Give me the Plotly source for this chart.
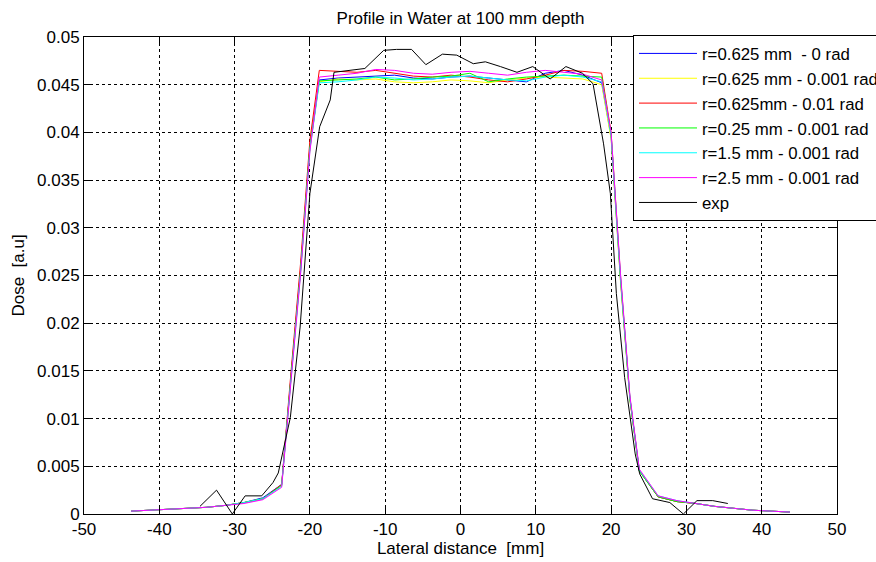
import plotly.graph_objects as go

# ---- data ----
x_sim = [-43.75, -41.25, -38.75, -36.25, -33.75, -31.25, -28.75, -26.25, -23.75, -22.5, -21.25, -20, -18.75,
         -16.25, -13.75, -11.25, -8.75, -6.25, -3.75, -1.25, 1.25, 3.75, 6.25, 8.75, 11.25, 13.75, 16.25,
         18.75, 20, 21.25, 22.5, 23.75, 26.25, 28.75, 31.25, 33.75, 36.25, 38.75, 41.25, 43.75]

dose_r0625_0 = [0.0003, 0.0004, 0.0005, 0.0006, 0.0007, 0.0009, 0.0012, 0.0017, 0.0031, 0.0145, 0.0255, 0.0385, 0.0455,
                0.0457, 0.0458, 0.0459, 0.0460, 0.0457, 0.0456, 0.0458, 0.0459, 0.0457, 0.0455, 0.0453, 0.0462, 0.0465, 0.0460,
                0.0452, 0.0395, 0.0245, 0.0120, 0.0045, 0.0018, 0.0013, 0.0011, 0.0008, 0.0006, 0.0004, 0.0003, 0.0002]
dose_r0625_0001 = [0.0003, 0.0004, 0.0005, 0.0006, 0.0007, 0.0009, 0.0012, 0.0016, 0.0030, 0.0143, 0.0253, 0.0383, 0.0453,
                   0.0456, 0.0455, 0.0456, 0.0453, 0.0452, 0.0453, 0.0455, 0.0454, 0.0452, 0.0455, 0.0457, 0.0458, 0.0457, 0.0456,
                   0.0450, 0.0393, 0.0243, 0.0119, 0.0045, 0.0018, 0.0013, 0.0011, 0.0008, 0.0006, 0.0004, 0.0003, 0.0002]
dose_r0625_001 = [0.0003, 0.0004, 0.0005, 0.0006, 0.0007, 0.0009, 0.0012, 0.0016, 0.0031, 0.0150, 0.0262, 0.0392, 0.0465,
                  0.0464, 0.0463, 0.0465, 0.0462, 0.0459, 0.0458, 0.0460, 0.0458, 0.0455, 0.0453, 0.0456, 0.0460, 0.0465, 0.0464,
                  0.0462, 0.0400, 0.0250, 0.0122, 0.0046, 0.0018, 0.0013, 0.0011, 0.0008, 0.0006, 0.0004, 0.0003, 0.0002]
dose_r025_0001 = [0.0003, 0.0004, 0.0005, 0.0006, 0.0007, 0.0009, 0.0012, 0.0016, 0.0030, 0.0144, 0.0254, 0.0384, 0.0454,
                  0.0455, 0.0456, 0.0458, 0.0455, 0.0456, 0.0458, 0.0459, 0.0462, 0.0453, 0.0456, 0.0458, 0.0459, 0.0460, 0.0459,
                  0.0458, 0.0398, 0.0247, 0.0121, 0.0045, 0.0018, 0.0013, 0.0011, 0.0008, 0.0006, 0.0004, 0.0003, 0.0002]
dose_r15_0001 = [0.0003, 0.0004, 0.0005, 0.0006, 0.0007, 0.0009, 0.0012, 0.0016, 0.0029, 0.0142, 0.0252, 0.0382, 0.0452,
                 0.0453, 0.0455, 0.0458, 0.0457, 0.0455, 0.0456, 0.0458, 0.0459, 0.0457, 0.0455, 0.0454, 0.0458, 0.0460, 0.0458,
                 0.0453, 0.0397, 0.0248, 0.0122, 0.0046, 0.0019, 0.0014, 0.0011, 0.0008, 0.0006, 0.0004, 0.0003, 0.0002]
dose_r25_0001 = [0.0003, 0.0004, 0.0005, 0.0006, 0.0007, 0.0009, 0.0011, 0.0015, 0.0028, 0.0140, 0.0250, 0.0380, 0.0458,
                 0.0460, 0.0462, 0.0466, 0.0465, 0.0462, 0.0461, 0.0463, 0.0464, 0.0462, 0.0460, 0.0463, 0.0465, 0.0463, 0.0461,
                 0.0455, 0.0400, 0.0252, 0.0124, 0.0047, 0.0019, 0.0014, 0.0011, 0.0008, 0.0006, 0.0004, 0.0003, 0.0002]

x_exp = [-34.6, -32.4, -30.3, -28.6, -26.4, -24.9, -24.2, -22.6, -21.3, -20.0, -18.7, -17.3, -16.8, -12.7, -10.2,
         -8.5, -6.5, -4.6, -2.4, -0.5, 1.7, 3.3, 5.3, 7.5, 9.6, 11.9, 14.0, 16.2, 17.6, 19.0, 19.9, 20.7, 21.8,
         23.2, 23.8, 25.5, 27.8, 29.6, 31.4, 33.5, 35.5]
dose_exp = [0.0008, 0.0025, 0.0000, 0.0019, 0.0019, 0.0033, 0.0043, 0.0101, 0.0196, 0.0336, 0.0406, 0.0434, 0.0463,
            0.0467, 0.0486, 0.0487, 0.0487, 0.0471, 0.0482, 0.0481, 0.0472, 0.0474, 0.0469, 0.0463, 0.0469, 0.0456,
            0.0469, 0.0462, 0.0451, 0.0388, 0.0336, 0.0231, 0.0143, 0.0063, 0.0042, 0.0016, 0.0012, 0.0000, 0.0014,
            0.0014, 0.0011]

x_ticks = [-50, -40, -30, -20, -10, 0, 10, 20, 30, 40, 50]
x_ticklabels = ["-50", "-40", "-30", "-20", "-10", "0", "10", "20", "30", "40", "50"]
y_ticks = [0, 0.005, 0.01, 0.015, 0.02, 0.025, 0.03, 0.035, 0.04, 0.045, 0.05]
y_ticklabels = ["0", "0.005", "0.01", "0.015", "0.02", "0.025", "0.03", "0.035", "0.04", "0.045", "0.05"]

series = [
    ("r=0.625 mm \u00a0- 0 rad", dose_r0625_0, "#0000ff"),
    ("r=0.625 mm - 0.001 rad", dose_r0625_0001, "#ffff00"),
    ("r=0.625mm - 0.01 rad", dose_r0625_001, "#ff0000"),
    ("r=0.25 mm - 0.001 rad", dose_r025_0001, "#00ff00"),
    ("r=1.5 mm - 0.001 rad", dose_r15_0001, "#00ffff"),
    ("r=2.5 mm - 0.001 rad", dose_r25_0001, "#ff00ff"),
]

FONT = "Liberation Sans, Arial, sans-serif"

fig = go.Figure()
for name, vals, col in series:
    fig.add_trace(go.Scatter(x=x_sim, y=vals, mode="lines", name=name,
                             line=dict(color=col, width=1)))
fig.add_trace(go.Scatter(x=x_exp, y=dose_exp, mode="lines", name="exp",
                         line=dict(color="#000000", width=1)))

axis_common = dict(
    showline=True, linecolor="black", linewidth=1, mirror="allticks",
    ticks="inside", ticklen=6, tickcolor="black",
    showgrid=True, gridcolor="black", gridwidth=1, griddash="dot",
    zeroline=False, tickfont=dict(family=FONT, size=17, color="black"),
)

fig.update_layout(
    width=876, height=562,
    margin=dict(l=84, r=39, t=37, b=48, autoexpand=False),
    paper_bgcolor="white", plot_bgcolor="white",
    font=dict(family=FONT, size=17, color="black"),
    title=dict(text="Profile in Water at 100 mm depth", x=0.5, xref="paper", xanchor="center",
               y=1 - 18 / 562, yref="container", yanchor="middle",
               font=dict(family=FONT, size=17, color="black")),
    xaxis=dict(range=[-50, 50], tickvals=x_ticks, ticktext=x_ticklabels,
               title=dict(text="Lateral distance \u00a0[mm]", standoff=2,
                          font=dict(family=FONT, size=17, color="black")),
               **axis_common),
    yaxis=dict(range=[0, 0.05], tickvals=y_ticks, ticktext=y_ticklabels,
               title=dict(text="Dose \u00a0[a.u]", standoff=8,
                          font=dict(family=FONT, size=17, color="black")),
               **axis_common),
    legend=dict(xref="container", yref="container", x=633 / 876, y=1 - 35 / 562,
                xanchor="left", yanchor="top", bgcolor="white", bordercolor="black", borderwidth=1,
                itemwidth=58, font=dict(family=FONT, size=16.8, color="black"),
                tracegroupgap=0),
    showlegend=True,
)

fig.write_html("out.html", config={"displayModeBar": False},
               post_script="document.body.style.margin='0';")
